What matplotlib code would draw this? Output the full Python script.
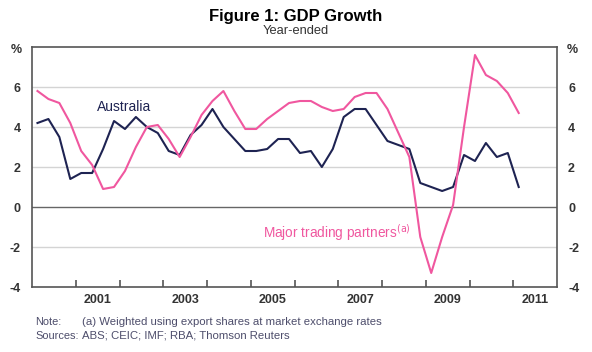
import numpy as np
import pandas as pd
import matplotlib
matplotlib.use("Agg")
import matplotlib.pyplot as plt

plt.rcParams['font.family'] = ['Liberation Sans', 'DejaVu Sans']
plt.rcParams['axes.unicode_minus'] = False

# quarterly data, 2000Q1 to 2011Q1
quarters = pd.period_range('2000Q1', '2011Q1', freq='Q')
australia = [4.2, 4.4, 3.5, 1.4, 1.7, 1.7, 2.9, 4.3, 3.9, 4.5,
             4.0, 3.7, 2.8, 2.6, 3.6, 4.1, 4.9, 4.0, 3.4, 2.8,
             2.8, 2.9, 3.4, 3.4, 2.7, 2.8, 2.0, 2.9, 4.5, 4.9,
             4.9, 4.1, 3.3, 3.1, 2.9, 1.2, 1.0, 0.8, 1.0, 2.6,
             2.3, 3.2, 2.5, 2.7, 1.0]
partners = [5.8, 5.4, 5.2, 4.2, 2.8, 2.1, 0.9, 1.0, 1.8, 3.0,
            4.0, 4.1, 3.4, 2.5, 3.5, 4.6, 5.3, 5.8, 4.8, 3.9,
            3.9, 4.4, 4.8, 5.2, 5.3, 5.3, 5.0, 4.8, 4.9, 5.5,
            5.7, 5.7, 4.9, 3.7, 2.5, -1.5, -3.3, -1.5, 0.1, 4.0,
            7.6, 6.6, 6.3, 5.7, 4.7]
year_labels = ['2001', '2003', '2005', '2007', '2009', '2011']
y_ticks = [-4, -2, 0, 2, 4, 6]

x = quarters.year + (quarters.quarter - 1) * 0.25 + 0.125

NAVY = '#1e2352'
PINK = '#f0579f'
AXC = '#555555'
TXT = '#333333'

fig = plt.figure(figsize=(5.92, 3.52), dpi=100)
ax = fig.add_axes([32 / 592, 1 - 287 / 352, 525 / 592, 240 / 352])

for v in y_ticks[1:]:
    if v == 0:
        ax.axhline(v, color='#666666', lw=1.0, zorder=1)
    else:
        ax.axhline(v, color='#d4d4d4', lw=1.0, zorder=1)

ax.plot(x, australia, color=NAVY, lw=1.5, zorder=3)
ax.plot(x, partners, color=PINK, lw=1.5, zorder=3)

ax.set_xlim(2000, 2012)
ax.set_ylim(-4, 8)

for s in ax.spines.values():
    s.set_color(AXC)
    s.set_linewidth(1.2)

# year boundary ticks, labels centred mid-year
ax.set_xticks(np.arange(2001, 2012))
ax.set_xticks([int(y) + 0.5 for y in year_labels], minor=True)
ax.set_xticklabels([])
ax.set_xticklabels(year_labels, minor=True, fontweight='bold')
ax.tick_params(axis='x', which='major', direction='in', length=5,
               color=AXC, width=1.2)
ax.tick_params(axis='x', which='minor', length=0, pad=5,
               labelsize=9, labelcolor=TXT)

ax.set_yticks(y_ticks)
ax.tick_params(axis='y', which='both', length=0, labelsize=9,
               labelcolor=TXT, labelleft=True, labelright=True, pad=8)
for t in ax.yaxis.get_major_ticks():
    t.label1.set_fontweight('bold')
    t.label2.set_fontweight('bold')

# % labels
fig.text(16 / 592, 1 - 50 / 352, '%', ha='center', va='center',
         fontsize=9, fontweight='bold', color=TXT)
fig.text(572 / 592, 1 - 50 / 352, '%', ha='center', va='center',
         fontsize=9, fontweight='bold', color=TXT)

# series labels
ax.text(2001.48, 5.0, 'Australia', color=NAVY, fontsize=10,
        ha='left', va='center')
ax.text(2005.27, -1.3, 'Major trading partners$^{\\rm (a)}$', color=PINK,
        fontsize=9.8, ha='left', va='center')

# titles
fig.text(0.5, 1 - 17 / 352, 'Figure 1: GDP Growth', ha='center',
         va='center', fontsize=12, fontweight='bold', color='black')
fig.text(0.5, 1 - 31 / 352, 'Year-ended', ha='center', va='center',
         fontsize=9.3, color=TXT)

# notes
NOTE = '#4d4d6b'
fig.text(35 / 592, 1 - 322 / 352, 'Note:', fontsize=7.9, color=NOTE, va='center')
fig.text(82 / 592, 1 - 322 / 352,
         '(a) Weighted using export shares at market exchange rates',
         fontsize=8.2, color=NOTE, va='center')
fig.text(35 / 592, 1 - 336 / 352, 'Sources:', fontsize=7.9, color=NOTE, va='center')
fig.text(82 / 592, 1 - 336 / 352, 'ABS; CEIC; IMF; RBA; Thomson Reuters',
         fontsize=8.2, color=NOTE, va='center')

fig.savefig('out.png', dpi=100)
